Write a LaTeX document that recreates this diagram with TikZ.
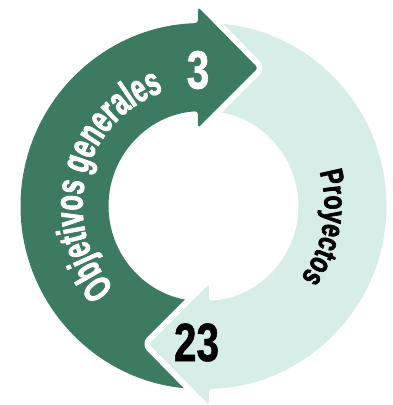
\documentclass[tikz,border=0pt]{standalone}
\usepackage{fontspec}
\newfontfamily\condfont[FakeStretch=0.75, FakeBold=1]{Liberation Sans}
\newfontfamily\objfont[FakeStretch=0.63, FakeBold=2]{Liberation Sans}
\newfontfamily\proyfont[FakeStretch=0.72, FakeBold=2]{Liberation Sans}
\usetikzlibrary{decorations.text}
\definecolor{objgreen}{RGB}{60,123,95}
\definecolor{proymint}{RGB}{214,237,232}

\begin{document}
\begin{tikzpicture}[x=1pt, y=1pt,
  arrowbody/.style={rounded corners=3pt},
  halo/.style={preaction={draw=white, line width=12pt, line join=round}},
  bignum/.style={inner sep=0pt, font=\condfont\bfseries\fontsize{54}{54}\selectfont}]
\useasboundingbox (-203.5,-199) rectangle (188.5,206);

% Proyectos arrow (light)
\fill[proymint, arrowbody] (88:183) arc[start angle=88, end angle=-88.28, radius=183]
  -- (5.5,-199) -- (-54.5,-138) -- (5.5,-78) -- (5.5,-94.8)
  arc[start angle=-86.68, end angle=88, radius=95] -- cycle;

% Objetivos generales arrow (dark)
\fill[objgreen, arrowbody, halo] (268:183) arc[start angle=268, end angle=91.72, radius=183]
  -- (-5.5,199) -- (54.5,138) -- (-5.5,78) -- (-5.5,94.8)
  arc[start angle=93.32, end angle=268, radius=95] -- cycle;

% light head again, over the dark tail
\begin{scope}
\clip (-200,-205) rectangle (70,-40);
\fill[proymint, arrowbody, halo] (88:183) arc[start angle=88, end angle=-88.28, radius=183]
  -- (5.5,-199) -- (-54.5,-138) -- (5.5,-78) -- (5.5,-94.8)
  arc[start angle=-86.68, end angle=88, radius=95] -- cycle;
\end{scope}

% Labels
\path[decorate, decoration={text along path, text align=center, text color=white,
  text={|\objfont\bfseries\fontsize{40}{40}\selectfont|Objetivos generales}}]
  (236:121) arc[start angle=236, end angle=96, radius=121];
\path[decorate, decoration={text along path, text align=center, text color=black,
  text={|\proyfont\bfseries\fontsize{32}{32}\selectfont|Proyectos}}]
  (40:121) arc[start angle=40, end angle=-60, radius=121];

\node[bignum, text=white] (tres) at (-5.5,136) {3};
\node[bignum, text=black] (veintitres) at (-7,-136.5) {23};
\end{tikzpicture}
\end{document}
